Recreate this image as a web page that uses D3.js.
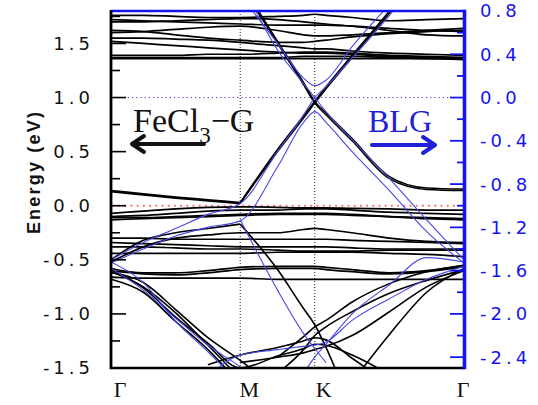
<!DOCTYPE html>
<html>
<head>
<meta charset="utf-8">
<script src="https://cdn.jsdelivr.net/npm/d3@7"></script>
<style>
  html, body { margin: 0; padding: 0; background: #fff; }
  svg { display: block; }
</style>
</head>
<body>
<svg id="chart"></svg>
<script>
// band structure: FeCl3-G (black, left axis) vs bilayer graphene (blue, right axis)

// k-path sample points: Γ(0) .. M(1) .. K(1.577) .. Γ(2.732)
const K_POINTS = [0, 0.25, 0.5, 0.75, 1.0, 1.289, 1.49, 1.577, 1.664, 1.866, 2.155, 2.443, 2.732];
const SYM_K = [0, 1.0, 1.577, 2.732];
const SYM_LABELS = ['Γ', 'M', 'K', 'Γ'];

const LEFT_TICKS = [-1.5, -1.0, -0.5, 0.0, 0.5, 1.0, 1.5];
const RIGHT_TICKS = [-2.4, -2.0, -1.6, -1.2, -0.8, -0.4, 0.0, 0.4, 0.8];

// FeCl3-G bands, eV on left axis, one value per K_POINTS entry (null = off the plot)
const FECL3_UPPER = [
    [1.76, 1.76, 1.75, 1.74, 1.74, 1.75, 1.76, 1.77, 1.76, 1.74, 1.71, 1.72, 1.73],
    [1.72, 1.71, 1.70, 1.69, 1.68, 1.67, 1.67, 1.67, 1.67, 1.66, 1.64, 1.62, 1.61],
    [1.70, 1.70, 1.71, 1.72, 1.73, 1.72, 1.70, 1.69, 1.68, 1.66, 1.62, 1.58, 1.57],
    [1.62, 1.61, 1.58, 1.55, 1.53, 1.51, 1.51, 1.52, 1.53, 1.56, 1.59, 1.61, 1.62],
    [1.60, 1.61, 1.63, 1.65, 1.66, 1.62, 1.58, 1.57, 1.57, 1.58, 1.60, 1.62, 1.64],
    [1.55, 1.55, 1.54, 1.53, 1.51, 1.48, 1.46, 1.45, 1.45, 1.43, 1.41, 1.40, 1.39],
    [1.52, 1.50, 1.48, 1.46, 1.44, 1.42, 1.41, 1.41, 1.41, 1.40, 1.38, 1.37, 1.37],
    [1.39, 1.39, 1.39, 1.40, 1.40, 1.41, 1.42, 1.42, 1.42, 1.41, 1.39, 1.38, 1.37],
    [1.37, 1.37, 1.37, 1.37, 1.37, 1.37, 1.38, 1.38, 1.38, 1.38, 1.37, 1.36, 1.36],
    [1.36, 1.36, 1.36, 1.36, 1.36, 1.36, 1.36, 1.36, 1.36, 1.36, 1.36, 1.36, 1.35],
];

// Dirac cone of the doped graphene layer (pairs of nearly degenerate bands)
const FECL3_CONE = [
    [null, null, null, null, 2.05, 1.50, 1.12, 0.95, 0.84, 0.60, 0.25, 0.15, 0.14],
    [null, null, null, null, 2.07, 1.52, 1.14, 0.965, 0.86, 0.62, 0.27, 0.165, 0.155],
    [null, null, null, null, 0.02, 0.50, 0.81, 0.95, 1.08, 1.37, 1.78, 2.20, null],
    [null, null, null, null, 0.03, 0.52, 0.83, 0.965, 1.10, 1.39, 1.80, 2.22, null],
];

const FECL3_FLAT = [
    [0.13, 0.10, 0.07, 0.045, 0.02, null, null, null, null, null, null, null, null],
    [0.14, 0.11, 0.08, 0.055, 0.03, null, null, null, null, null, null, null, null],
    [-0.07, -0.05, -0.03, -0.015, -0.01, -0.015, -0.02, -0.02, -0.02, -0.025, -0.03, -0.04, -0.04],
    [-0.10, -0.09, -0.07, -0.05, -0.04, -0.04, -0.03, -0.03, -0.03, -0.04, -0.06, -0.07, -0.08],
    [-0.13, -0.12, -0.11, -0.10, -0.09, -0.08, -0.08, -0.08, -0.08, -0.09, -0.10, -0.11, -0.12],
    [-0.11, -0.11, -0.10, -0.09, -0.08, -0.07, -0.07, -0.07, -0.07, -0.08, -0.10, -0.12, -0.13],
    [-0.52, -0.38, -0.30, -0.27, -0.25, -0.25, -0.22, -0.21, -0.22, -0.25, -0.30, -0.33, -0.34],
    [-0.30, -0.30, -0.31, -0.31, -0.31, -0.31, -0.31, -0.31, -0.31, -0.32, -0.33, -0.34, -0.35],
    [-0.34, -0.35, -0.36, -0.37, -0.38, -0.38, -0.38, -0.38, -0.38, -0.39, -0.40, -0.40, -0.40],
    [-0.38, -0.38, -0.39, -0.40, -0.40, -0.41, -0.42, -0.42, -0.42, -0.42, -0.41, -0.41, -0.41],
    [-0.44, -0.44, -0.44, -0.44, -0.44, -0.43, -0.43, -0.43, -0.43, -0.43, -0.44, -0.45, -0.47],
    [-0.58, -0.62, -0.62, -0.60, -0.57, -0.56, -0.56, -0.56, -0.57, -0.59, -0.62, -0.60, -0.55],
    [-0.60, -0.63, -0.64, -0.62, -0.59, -0.58, -0.58, -0.58, -0.59, -0.61, -0.63, -0.61, -0.56],
    [-0.66, -0.67, -0.67, -0.67, -0.67, -0.68, -0.68, -0.68, -0.68, -0.68, -0.68, -0.68, -0.68],
];

const FECL3_LOWER = [
    [-0.50, -0.32, -0.25, -0.21, -0.17, null, null, null, null, null, null, null, null],
    [null, null, null, null, -0.17, -0.59, -0.95, -1.10, -1.31, -1.90, null, null, null],
    [null, null, null, null, null, -1.40, -1.21, -1.12, -1.06, -0.89, -0.72, -0.61, -0.55],
    [null, null, null, null, null, -1.55, -1.33, -1.20, -1.12, -0.98, -0.81, -0.69, -0.59],
    [null, null, null, null, -1.45, -1.40, -1.36, -1.33, -1.30, -1.20, -0.98, -0.75, -0.60],
    [-0.59, -0.76, -1.03, -1.27, -1.50, -1.39, -1.32, -1.28, -1.29, -1.38, -1.56, null, null],
    [-0.62, -0.71, -0.96, -1.22, -1.43, -1.70, null, null, null, null, null, null, null],
    [-0.61, -0.75, -0.99, -1.29, -1.60, null, null, null, null, null, null, null, null],
    [-0.68, -0.80, -1.07, -1.33, -1.65, null, null, null, null, null, null, null, null],
    [null, null, null, -1.47, -1.38, -1.31, -1.25, -1.22, -1.24, -1.41, -1.65, null, null],
    [null, null, null, null, null, null, null, null, null, -1.63, -1.19, -0.80, -0.58],
];

// BLG bands, eV on right axis
const BLG_CONE = [
    [null, null, null, null, 1.09, 0.44, 0.13, 0.00, -0.13, -0.39, -0.75, -1.13, -1.50],
    [-1.50, -1.34, -1.21, -1.08, -0.98, -0.50, -0.16, 0.00, 0.10, 0.365, 0.76, 1.20, null],
    [null, null, null, null, 0.95, 0.50, 0.18, 0.11, 0.16, 0.47, 0.86, null, null],
    [-1.53, -1.40, -1.28, -1.20, -1.14, -0.64, -0.23, -0.13, -0.23, -0.50, -0.86, -1.24, -1.53],
];

const BLG_LOWER = [
    [-1.52, -1.71, -2.07, -2.35, -2.65, null, null, null, null, null, null, null, null],
    [-1.58, -1.78, -2.04, -2.29, -2.49, -2.80, null, null, null, null, null, null, null],
    [null, null, null, null, -1.13, -1.78, -2.18, -2.32, -2.45, null, null, null, null],
    [null, null, null, -2.58, -2.38, -2.33, -2.30, -2.29, -2.26, -2.06, -1.86, -1.68, -1.56],
    [null, null, null, null, null, null, -2.55, -2.40, -2.28, -2.00, -1.73, -1.48, -1.52],
];

// ── Layout ───────────────────────────────────────────────────────────────────
const W = 538, H = 405;
const M = { left: 111, right: 464, top: 11, bottom: 368 };
const BLACK = '#000';
const BLUE_LINE = '#4848e8';
const BLUE_AXIS = '#1414f0';
const BLUE_TEXT = '#2020d8';

const svg = d3.select('#chart').attr('width', W).attr('height', H);

const x = d3.scaleLinear().domain([0, 2.732]).range([M.left, M.right]);
const yL = d3.scaleLinear().domain([-1.5, 1.8]).range([M.bottom, M.top]);
const yR = d3.scaleLinear().domain([-2.5, 0.8]).range([M.bottom, M.top]);

svg.append('defs').append('clipPath').attr('id', 'plot-clip')
    .append('rect')
    .attr('x', M.left).attr('y', M.top)
    .attr('width', M.right - M.left).attr('height', M.bottom - M.top);

const plotG = svg.append('g').attr('clip-path', 'url(#plot-clip)');

// ── Guide lines (dotted) ─────────────────────────────────────────────────────
SYM_K.slice(1, 3).forEach(k => {
    plotG.append('line')
        .attr('x1', x(k)).attr('x2', x(k))
        .attr('y1', M.top).attr('y2', M.bottom)
        .attr('stroke', '#222').attr('stroke-width', 1)
        .attr('stroke-dasharray', '1,2');
});

plotG.append('line')
    .attr('x1', M.left).attr('x2', M.right)
    .attr('y1', yR(0)).attr('y2', yR(0))
    .attr('stroke', '#3c3cff').attr('stroke-width', 1)
    .attr('stroke-dasharray', '1.2,3');

plotG.append('line')
    .attr('x1', M.left + 1).attr('x2', M.right - 7)
    .attr('y1', yL(0)).attr('y2', yL(0))
    .attr('stroke', '#ff6a6a').attr('stroke-width', 2)
    .attr('stroke-dasharray', '1.8,4.4');

// ── Bands ────────────────────────────────────────────────────────────────────
function bandLine(yScale) {
    return d3.line()
        .defined(d => d[1] != null)
        .x(d => x(d[0]))
        .y(d => yScale(d[1]))
        .curve(d3.curveMonotoneX);
}

function drawBands(bands, yScale, color, width) {
    const gen = bandLine(yScale);
    plotG.append('g').selectAll('path')
        .data(bands.map(b => K_POINTS.map((k, i) => [k, b[i]])))
        .join('path')
        .attr('d', gen)
        .attr('fill', 'none')
        .attr('stroke', color)
        .attr('stroke-width', width)
        .attr('stroke-linejoin', 'round');
}

drawBands(FECL3_UPPER, yL, BLACK, 1.7);
drawBands(FECL3_FLAT, yL, BLACK, 1.7);
drawBands(FECL3_LOWER, yL, BLACK, 1.6);
drawBands(FECL3_CONE, yL, BLACK, 1.5);
drawBands(BLG_CONE, yR, BLUE_LINE, 1.1);
drawBands(BLG_LOWER, yR, BLUE_LINE, 1.1);

// ── Frame ────────────────────────────────────────────────────────────────────
svg.append('line').attr('x1', M.left).attr('x2', M.right + 1)
    .attr('y1', M.top).attr('y2', M.top)
    .attr('stroke', BLUE_AXIS).attr('stroke-width', 2.5);
svg.append('line').attr('x1', M.left).attr('x2', M.right)
    .attr('y1', M.bottom).attr('y2', M.bottom)
    .attr('stroke', BLACK).attr('stroke-width', 2.5);
svg.append('line').attr('x1', M.left).attr('x2', M.left)
    .attr('y1', M.top - 1).attr('y2', M.bottom + 1.2)
    .attr('stroke', BLACK).attr('stroke-width', 2.8);
svg.append('line').attr('x1', M.right + 0.5).attr('x2', M.right + 0.5)
    .attr('y1', M.top - 1.2).attr('y2', M.bottom + 1.2)
    .attr('stroke', BLUE_AXIS).attr('stroke-width', 3.6);

// left ticks point inward
d3.range(-1.5, 1.8, 0.25).forEach(v => {
    const major = Math.abs(v * 2 - Math.round(v * 2)) < 1e-6;
    svg.append('line')
        .attr('x1', M.left).attr('x2', M.left + (major ? 15 : 9))
        .attr('y1', yL(v)).attr('y2', yL(v))
        .attr('stroke', BLACK).attr('stroke-width', 1.6);
});

// right ticks point inward
d3.range(-2.4, 0.81, 0.2).forEach(v => {
    const major = Math.abs(v / 0.4 - Math.round(v / 0.4)) < 1e-6;
    svg.append('line')
        .attr('x1', M.right).attr('x2', M.right - (major ? 14 : 7))
        .attr('y1', yR(v)).attr('y2', yR(v))
        .attr('stroke', BLUE_AXIS).attr('stroke-width', 1.8);
});

const tickFont = "'DejaVu Sans', Verdana, sans-serif";

svg.append('g').selectAll('text')
    .data(LEFT_TICKS)
    .join('text')
    .attr('x', 94)
    .attr('y', d => yL(d))
    .attr('dy', '0.36em')
    .attr('text-anchor', 'end')
    .attr('font-family', tickFont)
    .attr('font-size', 18)
    .attr('letter-spacing', 4)
    .attr('fill', '#111')
    .text(d => d.toFixed(1));

svg.append('g').selectAll('text')
    .data(RIGHT_TICKS)
    .join('text')
    .attr('x', 480)
    .attr('y', d => yR(d))
    .attr('dy', '0.36em')
    .attr('text-anchor', 'start')
    .attr('font-family', tickFont)
    .attr('font-size', 18)
    .attr('letter-spacing', 4)
    .attr('fill', BLUE_AXIS)
    .text(d => d.toFixed(1));

// high-symmetry labels
svg.append('g').selectAll('text')
    .data(SYM_K)
    .join('text')
    .attr('x', d => Math.min(x(d) + 9, M.right - 1))
    .attr('y', 397)
    .attr('text-anchor', 'middle')
    .attr('font-family', "'Liberation Serif', 'Times New Roman', serif")
    .attr('font-size', 22)
    .attr('fill', '#111')
    .text((d, i) => SYM_LABELS[i]);

// y title
svg.append('text')
    .attr('transform', 'translate(40,172) rotate(-90)')
    .attr('text-anchor', 'middle')
    .attr('font-family', "'Liberation Sans', Arial, sans-serif")
    .attr('font-weight', 'bold')
    .attr('font-size', 18)
    .attr('letter-spacing', 2.2)
    .attr('fill', '#111')
    .text('Energy (eV)');

// ── Annotations ──────────────────────────────────────────────────────────────
const serif = "'Liberation Serif', 'Times New Roman', serif";

const feText = svg.append('text')
    .attr('x', 133).attr('y', 132)
    .attr('font-family', serif).attr('font-size', 34)
    .attr('fill', '#111');
feText.append('tspan').text('FeCl');
feText.append('tspan').attr('font-size', 23).attr('dy', 11).text('3');
feText.append('tspan').attr('dy', -11).text('−G');

svg.append('path')
    .attr('d', 'M204,144 L132,144 M144,136 L132,144 L144,152')
    .attr('fill', 'none').attr('stroke', '#111')
    .attr('stroke-width', 4).attr('stroke-linecap', 'round').attr('stroke-linejoin', 'round');

svg.append('text')
    .attr('x', 368).attr('y', 132)
    .attr('font-family', serif).attr('font-size', 32)
    .attr('fill', BLUE_TEXT)
    .text('BLG');

svg.append('path')
    .attr('d', 'M372,145 L435,145 M423,137 L435,145 L423,153')
    .attr('fill', 'none').attr('stroke', BLUE_TEXT)
    .attr('stroke-width', 4).attr('stroke-linecap', 'round').attr('stroke-linejoin', 'round');
</script>
</body>
</html>
